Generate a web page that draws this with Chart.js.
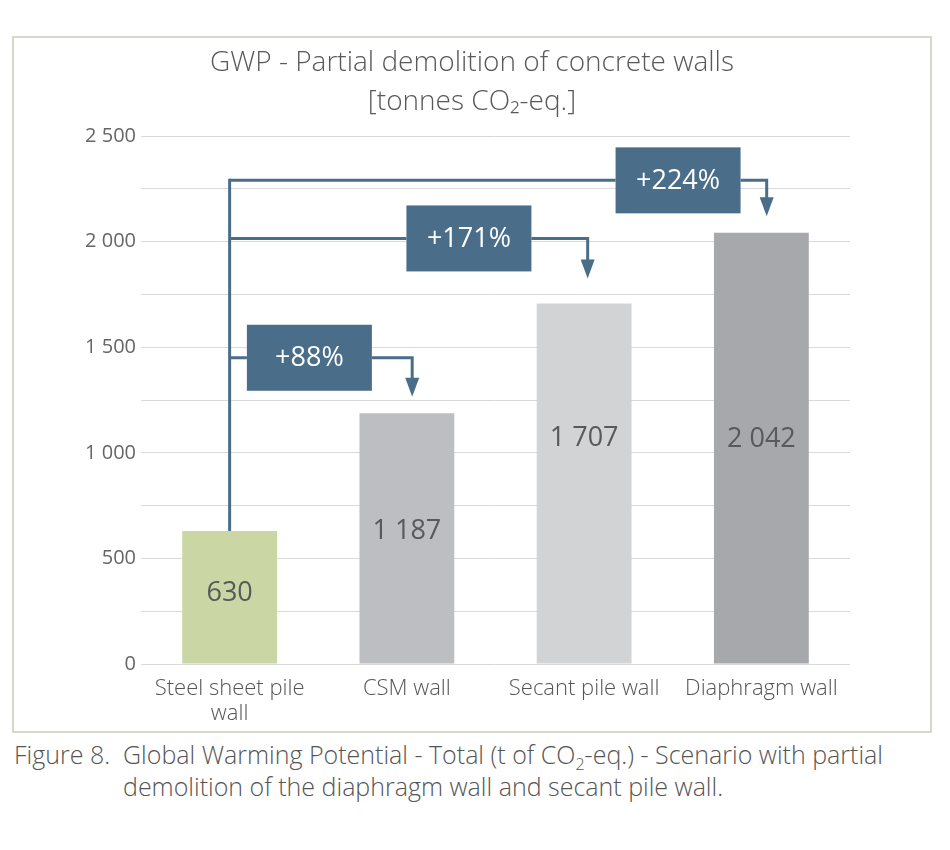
<!DOCTYPE html>
<html>
<head>
  <title>GWP - Partial demolition of concrete walls</title>
  <script src="https://cdn.jsdelivr.net/npm/chart.js"></script>
  <style>
    body {
      margin: 0;
      width: 950px;
      height: 850px;
      position: relative;
      background: #fff;
      font-family: 'Open Sans', sans-serif;
    }
    #frame {
      position: absolute;
      left: 12px;
      top: 36px;
      width: 920px;
      height: 697px;
      border: 2px solid #d6d8c9;
      box-sizing: border-box;
    }
    #frame canvas { display: block; }
    #caption {
      position: absolute;
      left: 14px;
      top: 738px;
      display: flex;
      font-size: 25px;
      font-weight: 300;
      line-height: 32px;
      color: #555;
    }
    #caption .num { width: 109px; flex: none; }
    #caption sub { font-size: 16px; line-height: 0; }
  </style>
</head>
<body>
  <div id="frame">
    <canvas id="chart" width="916" height="693"></canvas>
  </div>
  <div id="caption">
    <div class="num">Figure 8.</div>
    <div>Global Warming Potential - Total (t of CO<sub>2</sub>-eq.) - Scenario with partial<br>demolition of the diaphragm wall and secant pile wall.</div>
  </div>

  <script>
    const categories = [['Steel sheet pile', 'wall'], 'CSM wall', 'Secant pile wall', 'Diaphragm wall'];
    const gwpValues = [630, 1187, 1707, 2042];
    const increaseLabels = ['+88%', '+171%', '+224%'];
    const yTicks = [0, 500, 1000, 1500, 2000, 2500];

    const barColors = ['#cad7a4', '#bdbec2', '#d2d3d5', '#a7a8ac'];
    const accent = '#4a6e8a';

    function spaced(v) {
      return String(v).replace(/\B(?=(\d{3})+(?!\d))/g, ' ');
    }

    // numbers written inside the bars
    const valueLabels = {
      id: 'valueLabels',
      afterDatasetsDraw(chart, args, opts) {
        const { ctx, scales: { y } } = chart;
        const meta = chart.getDatasetMeta(0);
        ctx.save();
        ctx.font = '27px "Open Sans"';
        ctx.fillStyle = '#58595b';
        ctx.textAlign = 'center';
        ctx.textBaseline = 'middle';
        meta.data.forEach((bar, i) => {
          ctx.fillText(spaced(gwpValues[i]), bar.x, y.getPixelForValue(opts.at[i]));
        });
        ctx.restore();
      }
    };

    // connectors from the steel sheet pile bar to the other bars
    const increaseArrows = {
      id: 'increaseArrows',
      afterDatasetsDraw(chart, args, opts) {
        const { ctx, scales: { x, y } } = chart;
        const baseX = x.getPixelForValue(0);
        const baseY = y.getPixelForValue(gwpValues[0]);
        const topY = Math.min(...opts.links.map(l => y.getPixelForValue(l.level)));

        ctx.save();
        ctx.strokeStyle = accent;
        ctx.fillStyle = accent;
        ctx.lineWidth = 3;

        ctx.beginPath();
        ctx.moveTo(baseX, baseY);
        ctx.lineTo(baseX, topY - 1.5);
        ctx.stroke();

        opts.links.forEach((l, i) => {
          const ly = y.getPixelForValue(l.level);
          const bx = x.getPixelForValue(l.box);
          const ax = x.getPixelForValue(l.arrow);
          const tipY = y.getPixelForValue(l.tip);
          const left = bx - opts.boxW / 2;
          const right = bx + opts.boxW / 2;

          ctx.beginPath();
          ctx.moveTo(baseX, ly);
          ctx.lineTo(left, ly);
          ctx.moveTo(right, ly);
          ctx.lineTo(ax, ly);
          ctx.lineTo(ax, tipY - opts.headH + 2);
          ctx.stroke();

          ctx.beginPath();
          ctx.moveTo(ax - opts.headW / 2, tipY - opts.headH);
          ctx.lineTo(ax + opts.headW / 2, tipY - opts.headH);
          ctx.lineTo(ax, tipY);
          ctx.closePath();
          ctx.fill();

          ctx.fillRect(left, ly - opts.boxH / 2, opts.boxW, opts.boxH);

          ctx.save();
          ctx.fillStyle = '#ffffff';
          ctx.font = '27px "Open Sans"';
          ctx.textAlign = 'center';
          ctx.textBaseline = 'middle';
          ctx.fillText(increaseLabels[i], bx, ly + 1);
          ctx.restore();
        });
        ctx.restore();
      }
    };

    new Chart(document.getElementById('chart'), {
      type: 'bar',
      data: {
        labels: categories,
        datasets: [{
          data: gwpValues,
          backgroundColor: barColors,
          borderWidth: 0,
          barPercentage: 0.535,
          categoryPercentage: 1
        }]
      },
      options: {
        responsive: false,
        animation: false,
        layout: { padding: 0 },
        scales: {
          x: {
            grid: { display: false, drawTicks: false },
            border: { display: false },
            ticks: {
              padding: 12,
              color: '#555',
              font: { family: 'Open Sans', size: 22, weight: 300, lineHeight: '25px' }
            },
            afterFit(scale) { scale.height = 67; }
          },
          y: {
            min: 0,
            max: 2500,
            grid: { color: '#d9d9d9', lineWidth: 1, drawTicks: false },
            border: { display: false },
            ticks: {
              stepSize: 250,
              padding: 5,
              color: '#666',
              font: { family: 'Open Sans', size: 20 },
              callback: v => (yTicks.includes(v) ? spaced(v) : '')
            },
            afterFit(scale) { scale.width = 127; }
          },
          // empty right-hand margin, keeps the title centred on the frame
          yRight: {
            position: 'right',
            min: 0,
            max: 2500,
            grid: { display: false, drawTicks: false },
            border: { display: false },
            ticks: { display: false },
            afterFit(scale) { scale.width = 80; }
          }
        },
        plugins: {
          legend: { display: false },
          tooltip: { enabled: false },
          title: {
            display: true,
            text: ['GWP - Partial demolition of concrete walls', '[tonnes CO₂-eq.]'],
            color: '#595959',
            font: { family: 'Open Sans', size: 28, weight: 300, lineHeight: '39px' },
            padding: { top: 6, bottom: 14 }
          },
          valueLabels: { at: [335, 627, 1070, 1066] },
          increaseArrows: {
            boxW: 125,
            boxH: 66,
            headW: 14,
            headH: 19,
            links: [
              { level: 1450, box: 0.45, arrow: 1.03, tip: 1265 },
              { level: 2015, box: 1.35, arrow: 2.02, tip: 1825 },
              { level: 2290, box: 2.53, arrow: 3.03, tip: 2120 }
            ]
          }
        }
      },
      plugins: [valueLabels, increaseArrows]
    });
  </script>
</body>
</html>
